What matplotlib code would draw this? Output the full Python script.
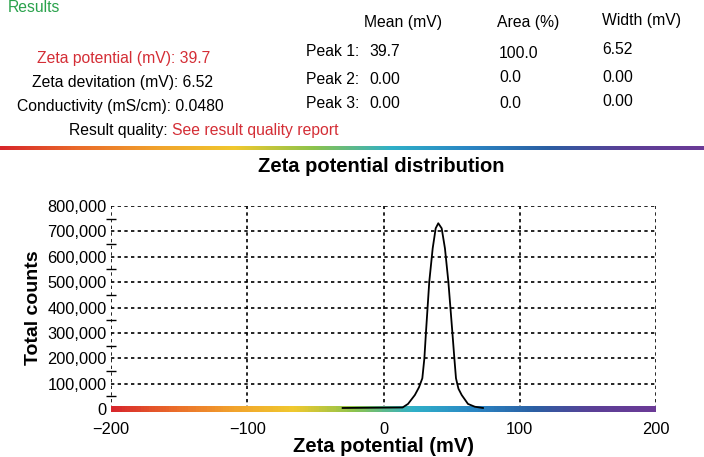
import numpy as np
import matplotlib
matplotlib.use('Agg')
import matplotlib.pyplot as plt
from matplotlib.collections import LineCollection
from matplotlib.colors import LinearSegmentedColormap
from matplotlib.ticker import FuncFormatter, MultipleLocator

plt.rcParams['font.family'] = ['Liberation Sans', 'DejaVu Sans']

# distribution
zeta_mv = [-30, 14, 18, 23, 26, 28.5, 30, 31.2, 33.6, 36.1, 38.3, 40.2, 42.7,
           45.1, 47.6, 50.5, 52, 53.2, 55, 57.4, 62, 67, 73]
counts = [4000, 6000, 20000, 55000, 85000, 121000, 200000, 305000, 502000, 633000,
          712000, 732000, 712000, 633000, 502000, 305000, 200000, 121000, 80000,
          55000, 20000, 9000, 4000]

# results block
left_labels = ["Zeta potential (mV): 39.7", "Zeta devitation (mV): 6.52",
               "Conductivity (mS/cm): 0.0480"]
peak_names = ["Peak 1:", "Peak 2:", "Peak 3:"]
peak_mean = ["39.7", "0.00", "0.00"]
peak_area = ["100.0", "0.0", "0.0"]
peak_width = ["6.52", "0.00", "0.00"]
col_heads = ["Mean (mV)", "Area (%)", "Width (mV)"]

rainbow = LinearSegmentedColormap.from_list(
    'rb', ['#d7262b', '#ea6b2a', '#f1a22c', '#f0c82e', '#8dc34b', '#2fb0c8',
           '#2a86c4', '#2a5fa3', '#5b3f96', '#6b3a96'])

W, H = 704, 457
fig = plt.figure(figsize=(W / 100, H / 100), dpi=100)
fs = 11.3

def ftext(x, y, s, **kw):
    fig.text(x / W, 1 - y / H, s, va='center', **kw)

red = '#d42e36'
ftext(8, 7, "Results", color='#2aa24c', fontsize=fs)
ys = [58, 82, 107]
xs = [37, 32, 17]
for i, lab in enumerate(left_labels):
    ftext(xs[i], ys[i], lab, color=red if i == 0 else 'black', fontsize=fs)
ftext(69, 131, "Result quality:", fontsize=fs)
ftext(172, 131, "See result quality report", color=red, fontsize=fs)

ftext(364, 23, col_heads[0], fontsize=fs)
ftext(497, 23, col_heads[1], fontsize=fs)
ftext(602, 21, col_heads[2], fontsize=fs)
py = [52, 79, 104]
for i in range(3):
    ftext(306, py[i], peak_names[i], fontsize=fs)
    ftext(369, py[i], peak_mean[i], fontsize=fs)
    ftext(499, py[i] + (1 if i == 0 else -1), peak_area[i], fontsize=fs)
    ftext(602, py[i] - 2, peak_width[i], fontsize=fs)

# rainbow bar across the page
bar = fig.add_axes([0, 1 - 150 / H, 1, 4 / H])
bar.imshow(np.linspace(0, 1, 256)[None, :], aspect='auto', cmap=rainbow)
bar.axis('off')

fig.text(381 / W, 1 - 166 / H, "Zeta potential distribution", ha='center',
         va='center', fontsize=14.5, fontweight='bold')

ax = fig.add_axes([111 / W, 1 - 409 / H, 545 / W, 203 / H])
ax.set_xlim(-200, 200)
ax.set_ylim(0, 800000)
for s in ax.spines.values():
    s.set_visible(False)
ax.set_xticks([-200, -100, 0, 100, 200])
ax.set_yticks(np.arange(0, 800001, 100000))
ax.yaxis.set_minor_locator(MultipleLocator(50000))
ax.grid(True, which='major', color='black', linestyle=(0, (2, 2)), linewidth=1.2)
ax.yaxis.set_major_formatter(FuncFormatter(lambda v, p: f"{int(v):,}"))
ax.xaxis.set_major_formatter(FuncFormatter(lambda v, p: f"{int(v)}".replace('-', '\u2212')))
ax.tick_params(which='major', length=0, labelsize=11.8, pad=3)
ax.tick_params(axis='x', which='major', pad=9)
ax.tick_params(axis='y', which='minor', direction='inout', length=7, width=1, color='black')
ax.tick_params(axis='x', which='minor', length=0)

# coloured zero line
xs_line = np.linspace(-200, 200, 200)
pts = np.column_stack([xs_line, np.zeros_like(xs_line)]).reshape(-1, 1, 2)
segs = np.concatenate([pts[:-1], pts[1:]], axis=1)
lc = LineCollection(segs, cmap=rainbow, linewidth=4, clip_on=False, zorder=3,
                    capstyle='butt', antialiased=False)
lc.set_array(np.linspace(0, 1, len(segs)))
ax.add_collection(lc)

ax.plot(zeta_mv, counts, color='black', linewidth=1.3, zorder=4, clip_on=False)

ax.set_xlabel("Zeta potential (mV)", fontsize=14.5, fontweight='bold', labelpad=0)
ax.set_ylabel("Total counts", fontsize=14, fontweight='bold', labelpad=4)

fig.savefig('out.png', dpi=100)
